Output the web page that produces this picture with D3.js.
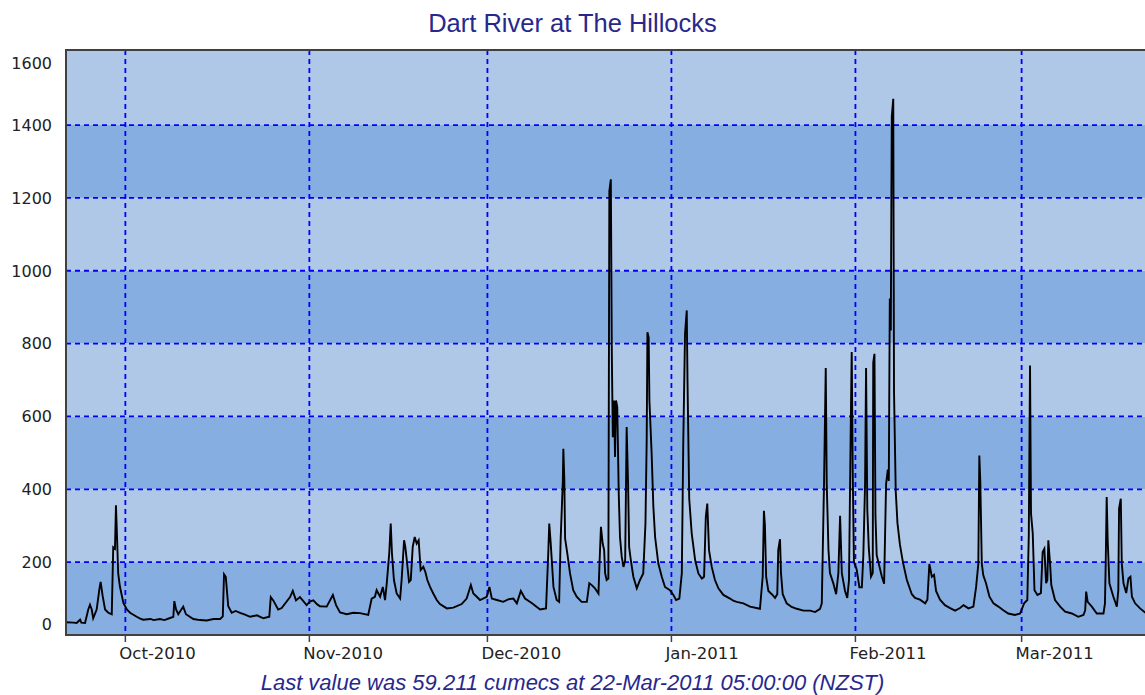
<!DOCTYPE html>
<meta charset='utf-8'>
<head>
  <title>Dart River at The Hillocks</title>
  <style>
    body { margin: 0; background: #fff; }
    svg { display: block; }
  </style>
</head>
<body>
  <div id='chart'></div>
</body>
<script src='https://d3js.org/d3.v7.min.js'></script>
<script>

var chartTitle = 'Dart River at The Hillocks',
    footNote = 'Last value was 59.211 cumecs at 22-Mar-2011 05:00:00 (NZST)';

// y ticks (cumecs) and month ticks on the time axis
var yTicks = [0, 200, 400, 600, 800, 1000, 1200, 1400, 1600];
var monthTicks = ['2010-10-01', '2010-11-01', '2010-12-01', '2011-01-01', '2011-02-01', '2011-03-01'];
var timeStart = '2010-09-21 00',
    timeEnd = '2011-03-22 05';

// flow readings: [time (NZST), cumecs]
var flow = [
  ['2010-09-21 00', 35], ['2010-09-22 06', 34], ['2010-09-22 19', 33], ['2010-09-23 09', 42],
  ['2010-09-23 14', 34], ['2010-09-24 05', 33], ['2010-09-24 18', 70], ['2010-09-25 01', 83],
  ['2010-09-25 08', 70], ['2010-09-25 14', 46], ['2010-09-26 04', 70], ['2010-09-26 15', 126],
  ['2010-09-26 20', 146], ['2010-09-27 04', 108], ['2010-09-27 14', 70], ['2010-09-28 03', 61],
  ['2010-09-28 17', 57], ['2010-09-28 23', 241], ['2010-09-29 06', 237], ['2010-09-29 10', 356],
  ['2010-09-29 13', 297], ['2010-09-29 19', 169], ['2010-09-30 02', 133], ['2010-09-30 16', 88],
  ['2010-10-01 06', 70], ['2010-10-01 19', 61], ['2010-10-02 22', 50], ['2010-10-03 12', 45],
  ['2010-10-04 00', 42], ['2010-10-05 06', 44], ['2010-10-05 18', 41], ['2010-10-06 20', 44],
  ['2010-10-07 14', 41], ['2010-10-08 10', 46], ['2010-10-09 02', 50], ['2010-10-09 06', 93],
  ['2010-10-09 13', 70], ['2010-10-09 22', 57], ['2010-10-10 18', 78], ['2010-10-11 05', 57],
  ['2010-10-12 11', 44], ['2010-10-13 14', 41], ['2010-10-14 17', 40], ['2010-10-15 20', 44],
  ['2010-10-16 23', 44], ['2010-10-17 10', 51], ['2010-10-17 15', 167], ['2010-10-17 22', 160],
  ['2010-10-18 08', 79], ['2010-10-18 22', 61], ['2010-10-19 14', 66], ['2010-10-20 08', 61],
  ['2010-10-21 04', 56], ['2010-10-22 00', 50], ['2010-10-23 04', 54], ['2010-10-24 06', 46],
  ['2010-10-25 06', 50], ['2010-10-25 12', 104], ['2010-10-25 22', 95], ['2010-10-26 18', 70],
  ['2010-10-27 08', 74], ['2010-10-28 18', 104], ['2010-10-29 05', 121], ['2010-10-29 18', 95],
  ['2010-10-30 10', 104], ['2010-10-31 13', 82], ['2010-11-01 02', 92], ['2010-11-01 16', 95],
  ['2010-11-02 08', 84], ['2010-11-02 19', 79], ['2010-11-03 22', 78], ['2010-11-04 23', 110],
  ['2010-11-05 12', 82], ['2010-11-06 04', 62], ['2010-11-07 07', 57], ['2010-11-08 10', 61],
  ['2010-11-09 13', 60], ['2010-11-10 22', 55], ['2010-11-11 12', 100], ['2010-11-12 01', 105],
  ['2010-11-12 08', 123], ['2010-11-12 22', 105], ['2010-11-13 09', 132], ['2010-11-13 18', 96],
  ['2010-11-14 01', 142], ['2010-11-14 11', 224], ['2010-11-14 17', 306], ['2010-11-14 22', 224],
  ['2010-11-15 06', 151], ['2010-11-15 17', 114], ['2010-11-16 07', 100], ['2010-11-16 13', 151],
  ['2010-11-16 23', 260], ['2010-11-17 04', 242], ['2010-11-17 10', 205], ['2010-11-17 19', 146],
  ['2010-11-18 02', 151], ['2010-11-18 10', 242], ['2010-11-18 18', 269], ['2010-11-19 02', 251],
  ['2010-11-19 10', 260], ['2010-11-19 18', 178], ['2010-11-20 05', 187], ['2010-11-20 13', 173],
  ['2010-11-20 21', 151], ['2010-11-21 08', 132], ['2010-11-21 21', 114], ['2010-11-22 11', 96],
  ['2010-11-23 00', 85], ['2010-11-24 04', 73], ['2010-11-25 06', 75], ['2010-11-26 16', 85],
  ['2010-11-27 12', 100], ['2010-11-28 05', 137], ['2010-11-28 15', 114], ['2010-11-29 05', 105],
  ['2010-11-29 18', 96], ['2010-11-30 21', 105], ['2010-12-01 08', 132], ['2010-12-01 18', 100],
  ['2010-12-02 14', 96], ['2010-12-03 16', 91], ['2010-12-04 12', 98], ['2010-12-05 09', 100],
  ['2010-12-05 23', 87], ['2010-12-06 15', 121], ['2010-12-07 08', 100], ['2010-12-08 11', 88],
  ['2010-12-09 21', 70], ['2010-12-10 21', 73], ['2010-12-11 06', 224], ['2010-12-11 10', 306],
  ['2010-12-11 16', 251], ['2010-12-12 03', 132], ['2010-12-12 16', 96], ['2010-12-13 02', 91],
  ['2010-12-13 08', 260], ['2010-12-13 17', 425], ['2010-12-13 19', 511], ['2010-12-13 23', 425],
  ['2010-12-14 02', 265], ['2010-12-14 11', 224], ['2010-12-14 22', 169], ['2010-12-15 11', 123],
  ['2010-12-16 01', 105], ['2010-12-16 21', 91], ['2010-12-17 18', 91], ['2010-12-18 04', 142],
  ['2010-12-18 14', 137], ['2010-12-19 03', 128], ['2010-12-19 17', 114], ['2010-12-19 21', 192],
  ['2010-12-20 03', 297], ['2010-12-20 10', 251], ['2010-12-20 16', 233], ['2010-12-20 20', 169],
  ['2010-12-21 02', 151], ['2010-12-21 09', 155], ['2010-12-21 13', 1219], ['2010-12-21 19', 1251],
  ['2010-12-21 23', 772], ['2010-12-22 03', 543], ['2010-12-22 08', 644], ['2010-12-22 12', 489],
  ['2010-12-22 16', 644], ['2010-12-22 21', 626], ['2010-12-23 03', 388], ['2010-12-23 08', 269],
  ['2010-12-23 15', 215], ['2010-12-23 22', 187], ['2010-12-24 05', 205], ['2010-12-24 11', 571],
  ['2010-12-24 17', 406], ['2010-12-24 21', 242], ['2010-12-25 04', 205], ['2010-12-25 14', 160],
  ['2010-12-26 04', 128], ['2010-12-26 17', 151], ['2010-12-27 06', 169], ['2010-12-27 15', 306],
  ['2010-12-27 20', 534], ['2010-12-27 23', 831], ['2010-12-28 04', 817], ['2010-12-28 07', 644],
  ['2010-12-28 16', 498], ['2010-12-28 23', 352], ['2010-12-29 06', 269], ['2010-12-29 19', 196],
  ['2010-12-30 09', 160], ['2010-12-30 22', 132], ['2010-12-31 18', 123], ['2011-01-01 08', 110],
  ['2011-01-01 19', 96], ['2011-01-02 08', 100], ['2011-01-02 18', 169], ['2011-01-03 00', 534],
  ['2011-01-03 07', 827], ['2011-01-03 14', 891], ['2011-01-03 17', 699], ['2011-01-04 00', 374],
  ['2011-01-04 10', 279], ['2011-01-05 00', 205], ['2011-01-05 13', 169], ['2011-01-06 03', 155],
  ['2011-01-06 12', 160], ['2011-01-06 19', 324], ['2011-01-07 01', 361], ['2011-01-07 08', 233],
  ['2011-01-07 19', 187], ['2011-01-08 08', 151], ['2011-01-08 22', 128], ['2011-01-09 18', 110],
  ['2011-01-10 21', 100], ['2011-01-11 10', 94], ['2011-01-12 00', 91], ['2011-01-13 03', 87],
  ['2011-01-14 06', 78], ['2011-01-15 22', 72], ['2011-01-16 09', 160], ['2011-01-16 14', 341],
  ['2011-01-16 18', 302], ['2011-01-16 23', 160], ['2011-01-17 08', 121], ['2011-01-17 22', 112],
  ['2011-01-18 11', 102], ['2011-01-18 20', 112], ['2011-01-19 00', 234], ['2011-01-19 07', 263],
  ['2011-01-19 11', 170], ['2011-01-19 18', 112], ['2011-01-20 10', 87], ['2011-01-21 06', 77],
  ['2011-01-22 03', 72], ['2011-01-23 06', 67], ['2011-01-24 09', 67], ['2011-01-25 05', 63],
  ['2011-01-26 01', 72], ['2011-01-26 08', 87], ['2011-01-26 17', 415], ['2011-01-27 00', 733],
  ['2011-01-27 04', 415], ['2011-01-27 11', 234], ['2011-01-27 17', 170], ['2011-01-28 07', 141],
  ['2011-01-28 18', 112], ['2011-01-29 03', 170], ['2011-01-29 10', 327], ['2011-01-29 17', 170],
  ['2011-01-30 06', 121], ['2011-01-30 15', 102], ['2011-01-30 22', 151], ['2011-01-31 05', 567],
  ['2011-01-31 09', 777], ['2011-01-31 13', 454], ['2011-01-31 18', 200], ['2011-02-01 05', 180],
  ['2011-02-01 16', 131], ['2011-02-02 02', 131], ['2011-02-02 08', 219], ['2011-02-02 15', 415],
  ['2011-02-02 19', 733], ['2011-02-03 00', 346], ['2011-02-03 06', 239], ['2011-02-03 15', 160],
  ['2011-02-03 22', 170], ['2011-02-04 00', 748], ['2011-02-04 05', 772], ['2011-02-04 09', 327],
  ['2011-02-04 14', 219], ['2011-02-04 21', 200], ['2011-02-05 11', 160], ['2011-02-05 20', 141],
  ['2011-02-06 04', 415], ['2011-02-06 11', 454], ['2011-02-06 15', 423], ['2011-02-06 19', 924],
  ['2011-02-06 23', 836], ['2011-02-07 03', 1423], ['2011-02-07 09', 1472], ['2011-02-07 12', 669],
  ['2011-02-07 19', 395], ['2011-02-08 02', 307], ['2011-02-08 12', 248], ['2011-02-09 00', 200],
  ['2011-02-09 16', 151], ['2011-02-10 12', 112], ['2011-02-11 01', 102], ['2011-02-11 21', 97],
  ['2011-02-12 18', 87], ['2011-02-13 03', 97], ['2011-02-13 11', 195], ['2011-02-13 21', 160],
  ['2011-02-14 06', 165], ['2011-02-14 14', 121], ['2011-02-15 06', 97], ['2011-02-16 02', 82],
  ['2011-02-16 23', 74], ['2011-02-17 19', 67], ['2011-02-18 15', 74], ['2011-02-19 05', 82],
  ['2011-02-20 01', 73], ['2011-02-20 21', 78], ['2011-02-21 08', 132], ['2011-02-21 17', 196],
  ['2011-02-21 21', 493], ['2011-02-22 01', 420], ['2011-02-22 07', 196], ['2011-02-22 13', 164],
  ['2011-02-23 00', 142], ['2011-02-23 14', 105], ['2011-02-24 06', 87], ['2011-02-25 02', 78],
  ['2011-02-25 22', 68], ['2011-02-26 18', 59], ['2011-02-27 21', 55], ['2011-02-28 18', 59],
  ['2011-03-01 10', 87], ['2011-03-01 23', 96], ['2011-03-02 05', 274], ['2011-03-02 10', 740],
  ['2011-03-02 14', 333], ['2011-03-02 21', 279], ['2011-03-03 04', 123], ['2011-03-03 16', 110],
  ['2011-03-04 06', 115], ['2011-03-04 13', 228], ['2011-03-04 20', 237], ['2011-03-05 03', 142],
  ['2011-03-05 08', 151], ['2011-03-05 12', 260], ['2011-03-05 19', 196], ['2011-03-06 00', 137],
  ['2011-03-06 15', 96], ['2011-03-07 12', 78], ['2011-03-08 08', 64], ['2011-03-09 11', 59],
  ['2011-03-10 13', 50], ['2011-03-11 10', 55], ['2011-03-11 17', 68], ['2011-03-11 21', 119],
  ['2011-03-12 03', 91], ['2011-03-12 20', 78], ['2011-03-13 16', 59], ['2011-03-14 19', 59],
  ['2011-03-15 01', 87], ['2011-03-15 04', 196], ['2011-03-15 08', 379], ['2011-03-15 12', 260],
  ['2011-03-15 19', 142], ['2011-03-16 11', 105], ['2011-03-17 01', 78], ['2011-03-17 07', 123],
  ['2011-03-17 10', 347], ['2011-03-17 17', 374], ['2011-03-17 21', 196], ['2011-03-18 04', 142],
  ['2011-03-18 15', 115], ['2011-03-19 00', 155], ['2011-03-19 08', 160], ['2011-03-19 14', 105],
  ['2011-03-20 03', 87], ['2011-03-20 23', 73], ['2011-03-21 19', 62], ['2011-03-22 05', 59.211]
];

var width = 1145,
    height = 695,
    margin = {top: 50, left: 66, bottom: 60};

var parseTime = d3.timeParse('%Y-%m-%d %H'),
    parseDay = d3.timeParse('%Y-%m-%d'),
    formatMonth = d3.timeFormat('%b-%Y');

var data = flow.map(function(d) { return {t: parseTime(d[0]), v: d[1]}; });

var x = d3.scaleTime()
    .domain([parseTime(timeStart), parseTime(timeEnd)])
    .range([margin.left, 1147.5]);

var y = d3.scaleLinear()
    .domain([0, 1606])
    .range([height - margin.bottom, margin.top]);

var svg = d3.select('#chart').append('svg')
    .attr('width', width)
    .attr('height', height);

var plot = svg.append('g');

// alternating bands every 200 cumecs
var bands = d3.range(0, 8);
plot.selectAll('rect.band')
    .data(bands)
  .enter().append('rect')
    .attr('class', 'band')
    .attr('x', x.range()[0])
    .attr('width', x.range()[1] - x.range()[0])
    .attr('y', function(i) { return i == 7 ? y.range()[1] : y((i + 1) * 200); })
    .attr('height', function(i) { return y(i * 200) - (i == 7 ? y.range()[1] : y((i + 1) * 200)); })
    .style('fill', function(i) { return i % 2 ? '#afc8e7' : '#86aee0'; });

// dashed grid
plot.selectAll('line.hgrid')
    .data(yTicks.filter(function(d) { return d > 0 && d < 1600; }))
  .enter().append('line')
    .attr('x1', x.range()[0]).attr('x2', x.range()[1])
    .attr('y1', function(d) { return y(d); })
    .attr('y2', function(d) { return y(d); })
    .style('stroke', '#0000ff')
    .style('stroke-width', 1.8)
    .style('stroke-dasharray', '5,4');

plot.selectAll('line.vgrid')
    .data(monthTicks.map(parseDay))
  .enter().append('line')
    .attr('x1', function(d) { return x(d); })
    .attr('x2', function(d) { return x(d); })
    .attr('y1', y.range()[1]).attr('y2', y.range()[0])
    .style('stroke', '#0000ff')
    .style('stroke-width', 1.8)
    .style('stroke-dasharray', '5,4');

// flow line
var line = d3.line()
    .x(function(d) { return x(d.t); })
    .y(function(d) { return y(d.v); });

plot.append('path')
    .datum(data)
    .attr('d', line)
    .style('fill', 'none')
    .style('stroke', '#000')
    .style('stroke-width', 1.9)
    .style('stroke-linejoin', 'miter');

// frame
svg.append('path')
    .attr('d', 'M' + x.range()[1] + ',' + y.range()[1] + 'H' + x.range()[0] +
               'V' + y.range()[0] + 'H' + x.range()[1])
    .style('fill', 'none')
    .style('stroke', '#404040')
    .style('stroke-width', 2);

// x axis ticks and labels (labels start just left of the tick)
var xt = svg.selectAll('g.xtick')
    .data(monthTicks.map(parseDay))
  .enter().append('g')
    .attr('transform', function(d) { return 'translate(' + x(d) + ',' + y.range()[0] + ')'; });
xt.append('line')
    .attr('y1', 0).attr('y2', 7)
    .style('stroke', '#404040')
    .style('stroke-width', 1.5);
xt.append('text')
    .attr('x', -6)
    .attr('y', 24)
    .attr('text-anchor', 'start')
    .style('font-family', 'DejaVu Sans')
    .style('font-size', '16.5px')
    .style('fill', '#222')
    .text(formatMonth);

// y labels, end labels pulled inside the frame
svg.selectAll('text.ylab')
    .data(yTicks)
  .enter().append('text')
    .attr('x', 52)
    .attr('y', function(d) {
      var off = d == 0 ? -11 : (d == 1600 ? 11 : 0);
      return y(d) + off;
    })
    .attr('dy', '0.36em')
    .attr('text-anchor', 'end')
    .style('font-family', 'DejaVu Sans')
    .style('font-size', '16px')
    .style('fill', '#222')
    .text(function(d) { return d; });

svg.append('text')
    .attr('x', width / 2)
    .attr('y', 32)
    .attr('text-anchor', 'middle')
    .style('font-family', 'Liberation Sans')
    .style('font-size', '25.5px')
    .style('fill', '#28288c')
    .text(chartTitle);

svg.append('text')
    .attr('x', width / 2)
    .attr('y', 690)
    .attr('text-anchor', 'middle')
    .style('font-family', 'Liberation Sans')
    .style('font-style', 'italic')
    .style('font-size', '22px')
    .style('fill', '#28288c')
    .text(footNote);

</script>
